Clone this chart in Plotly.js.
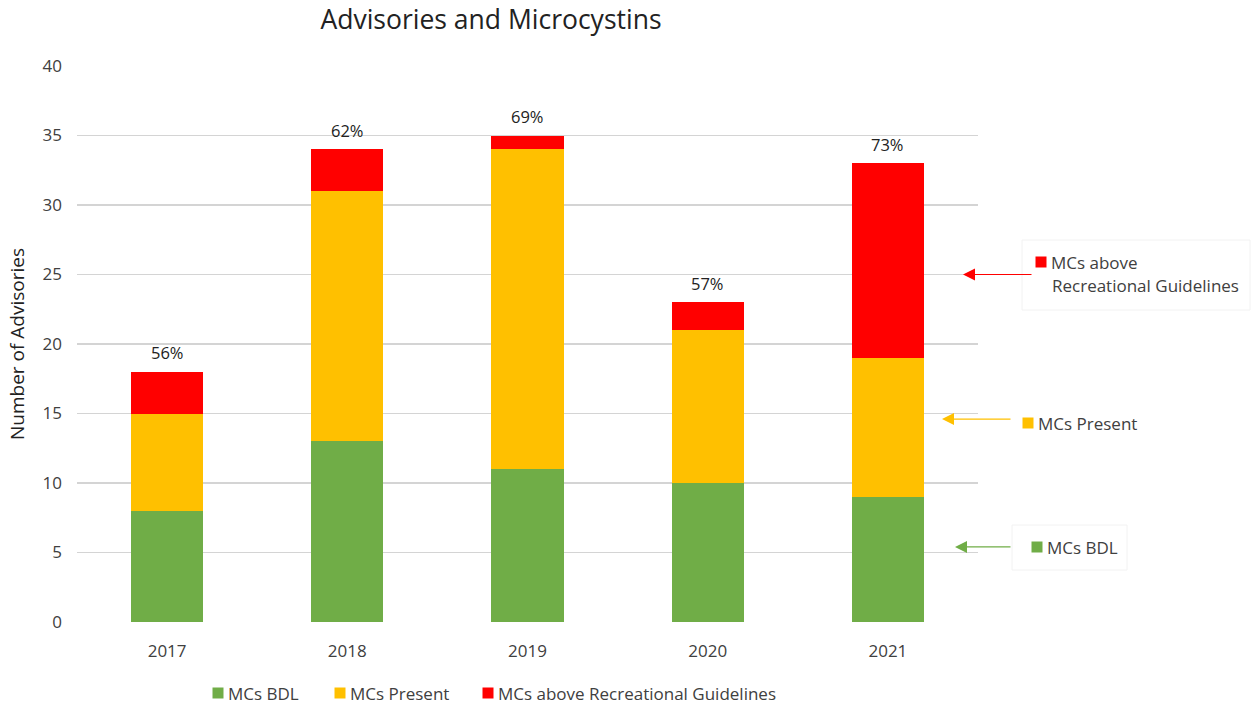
<!DOCTYPE html>
<html>
<head>
<meta charset="utf-8">
<script src="https://cdn.plot.ly/plotly-3.0.1.min.js"></script>
<style>html,body{margin:0;padding:0;background:#fff;}#chart{width:1251px;height:705px;}</style>
</head>
<body>
<div id="chart"></div>
<script>
const years = ['2017', '2018', '2019', '2020', '2021'];
const mcsBDL = [8, 13, 11, 10, 9];
const mcsPresent = [7, 18, 23, 11, 10];
const mcsAbove = [3, 3, 1, 2, 14];
const pctLabels = ['56%', '62%', '69%', '57%', '73%'];
const yTicks = [0, 5, 10, 15, 20, 25, 30, 35, 40];
const seriesNames = ['MCs BDL', 'MCs Present', 'MCs above Recreational Guidelines'];

const colGreen = '#70AD47', colYellow = '#FFC000', colRed = '#FF0000';
const colors = [colGreen, colYellow, colRed];
const textCol = '#404040';
const fontFam = 'Open Sans, Liberation Sans, sans-serif';

const traces = [mcsBDL, mcsPresent, mcsAbove].map((vals, k) => ({
  type: 'bar', name: seriesNames[k], x: years, y: vals, marker: {color: colors[k]}, width: 0.4
}));

const totals = years.map((_, i) => mcsBDL[i] + mcsPresent[i] + mcsAbove[i]);
const annotations = years.map((yr, i) => ({
  x: i, y: totals[i], xref: 'x', yref: 'y', text: pctLabels[i], showarrow: false,
  yshift: 19, font: {size: 16.5, color: '#222', family: fontFam}
}));

function px2paperX(px) { return (px - 77) / 901; }
function px2paperY(py) { return (622 - py) / 556; }

const shapes = [
  {type: 'rect', xref: 'paper', yref: 'paper', x0: px2paperX(1022), x1: px2paperX(1250), y0: px2paperY(310), y1: px2paperY(240),
   line: {color: '#F2F2F2', width: 1}},
  {type: 'rect', xref: 'paper', yref: 'paper', x0: px2paperX(1012), x1: px2paperX(1127), y0: px2paperY(570), y1: px2paperY(525),
   line: {color: '#F2F2F2', width: 1}}
];

function square(cx, cy, col) {
  shapes.push({type: 'rect', xref: 'paper', yref: 'paper',
    x0: px2paperX(cx - 5.5), x1: px2paperX(cx + 5.5), y0: px2paperY(cy + 5.5), y1: px2paperY(cy - 5.5),
    fillcolor: col, line: {width: 0}});
}
function label(px, py, text, size) {
  annotations.push({x: px2paperX(px), y: px2paperY(py), xref: 'paper', yref: 'paper', xanchor: 'left', yanchor: 'middle',
    text: text, showarrow: false, font: {size: size, color: textCol, family: fontFam}});
}
function arrow(headPx, yVal, len, col) {
  annotations.push({x: px2paperX(headPx), y: yVal, xref: 'paper', yref: 'y', ax: len, ay: 0, text: '', showarrow: true,
    arrowcolor: col, arrowwidth: 1.2, arrowhead: 2, arrowsize: 2});
}

// side callouts
arrow(963, 25, 70, colRed);
arrow(942, 14.6, 70, colYellow);
arrow(955, 5.4, 57, colGreen);
square(1041, 262, colRed);
label(1049, 262, 'MCs above', 17);
label(1050, 285, 'Recreational Guidelines', 17);
square(1028, 423, colYellow);
label(1036, 423, 'MCs Present', 17);
square(1037, 547, colGreen);
label(1045, 547, 'MCs BDL', 17);

// bottom legend
const legX = [218, 340, 488];
seriesNames.forEach((nm, k) => {
  square(legX[k], 693, colors[k]);
  label(legX[k] + 8, 693, nm, 17);
});

const layout = {
  width: 1251, height: 705,
  margin: {l: 77, r: 273, t: 66, b: 83},
  paper_bgcolor: '#fff', plot_bgcolor: '#fff',
  barmode: 'stack',
  showlegend: false,
  font: {family: fontFam, color: textCol, size: 16},
  title: {text: 'Advisories and Microcystins', x: px2paperX(491), xref: 'paper', xanchor: 'center',
          y: 1 - 20 / 705, yref: 'container', yanchor: 'middle',
          font: {size: 26.5, color: '#222', family: fontFam}},
  xaxis: {type: 'category', showgrid: false, showline: false, zeroline: false, ticks: '', automargin: false,
          tickfont: {size: 17, color: textCol}, ticklabelstandoff: 17},
  yaxis: {range: [0, 40], tickvals: yTicks, showgrid: true, gridcolor: '#D4D4D4', gridwidth: 1.5, automargin: false,
          zeroline: false, showline: false, ticks: '', tickfont: {size: 17, color: textCol},
          ticklabelstandoff: 14,
          title: {text: 'Number of Advisories', font: {size: 19, color: '#222'}, standoff: 12}},
  annotations: annotations,
  shapes: shapes
};

Plotly.newPlot('chart', traces, layout, {displayModeBar: false, staticPlot: true});
</script>
</body>
</html>
